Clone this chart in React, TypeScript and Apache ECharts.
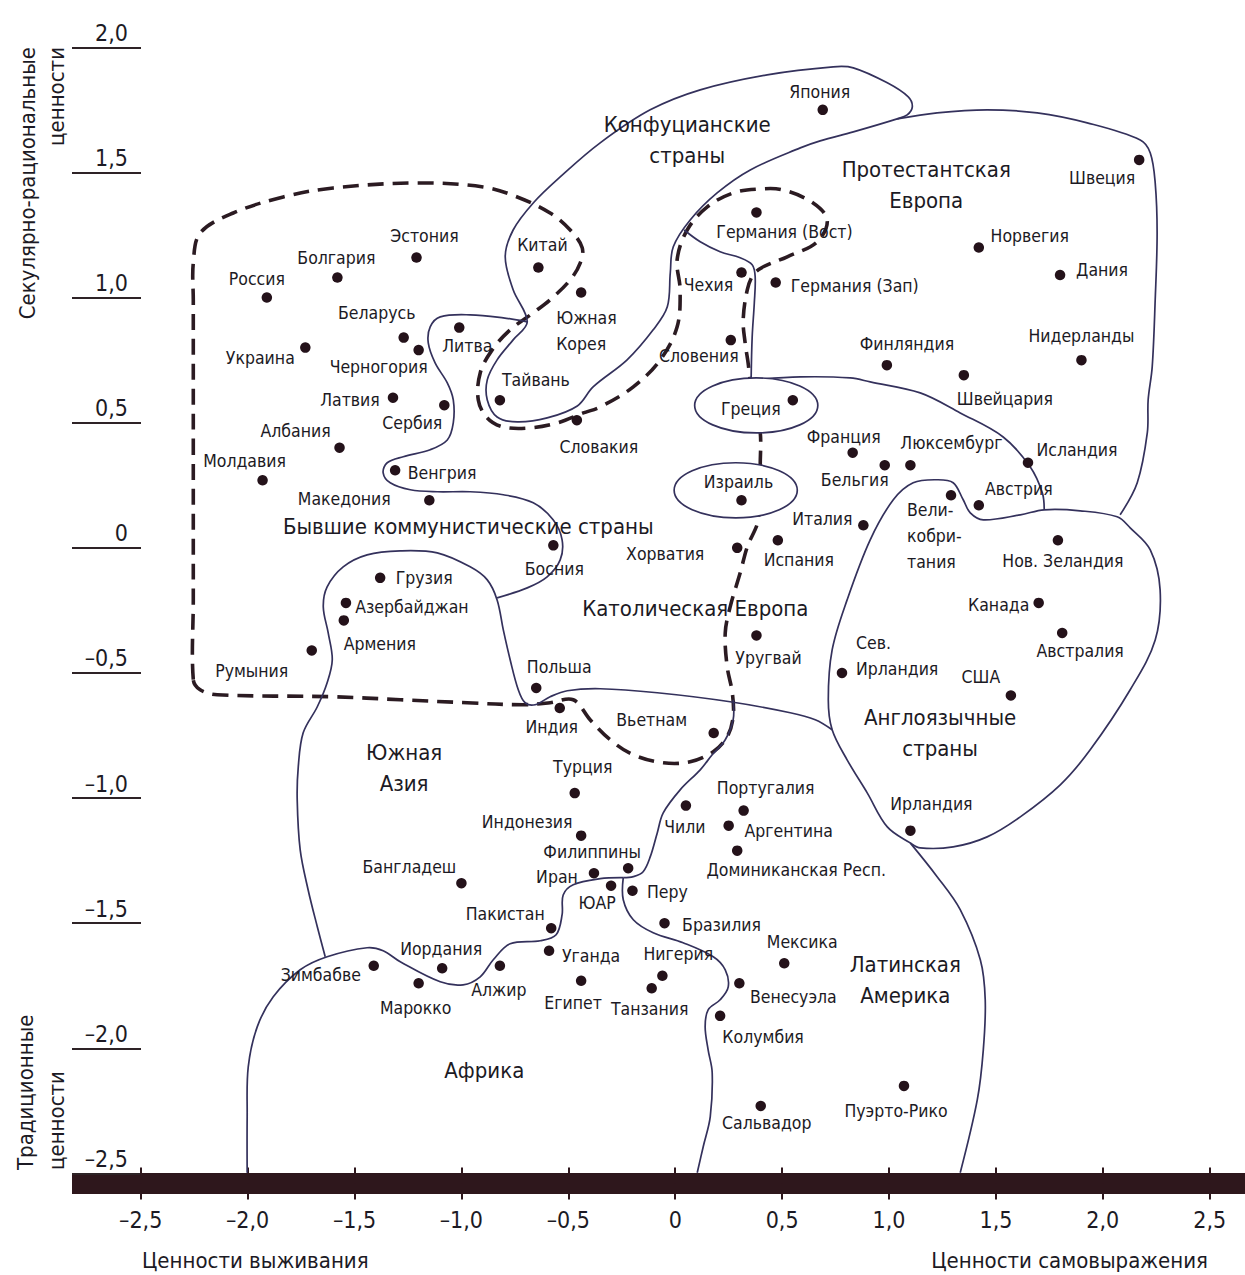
import React, { useEffect, useRef } from "react";
import * as echarts from "echarts";

const FONT = '"DejaVu Sans Condensed", "Liberation Sans Narrow", "Arial Narrow", sans-serif';
const TEXT = "#1c1a24";

// ---- countries ----
const countries = [
  "Россия", "Болгария", "Эстония", "Беларусь", "Черногория", "Украина", "Латвия", "Албания",
  "Молдавия", "Венгрия", "Македония", "Грузия", "Азербайджан", "Армения", "Румыния", "Литва",
  "Сербия", "Китай", "Южная\nКорея", "Тайвань", "Япония", "Германия (Вост)", "Чехия", "Германия (Зап)",
  "Словения", "Греция", "Швеция", "Норвегия", "Дания", "Финляндия", "Швейцария", "Нидерланды",
  "Словакия", "Израиль", "Босния", "Хорватия", "Испания", "Уругвай", "Польша", "Индия",
  "Вьетнам", "Турция", "Франция", "Бельгия", "Люксембург", "Исландия", "Вели-\nкобри-\nтания", "Австрия",
  "Италия", "Нов. Зеландия", "Канада", "Австралия", "Сев.\nИрландия", "США", "Ирландия", "Пуэрто-Рико",
  "Индонезия", "Бангладеш", "Иран", "Филиппины", "ЮАР", "Перу", "Пакистан", "Уганда",
  "Египет", "Алжир", "Иордания", "Марокко", "Зимбабве", "Бразилия", "Нигерия", "Танзания",
  "Мексика", "Венесуэла", "Колумбия", "Сальвадор", "Чили", "Португалия", "Аргентина", "Доминиканская Респ.",
];
const survivalSelfExpression = [
  -1.91, -1.58, -1.21, -1.27, -1.20, -1.73, -1.32, -1.57,
  -1.93, -1.31, -1.15, -1.38, -1.54, -1.55, -1.70, -1.01,
  -1.08, -0.64, -0.44, -0.82, 0.69, 0.38, 0.31, 0.47,
  0.26, 0.55, 2.17, 1.42, 1.80, 0.99, 1.35, 1.90,
  -0.46, 0.31, -0.57, 0.29, 0.48, 0.38, -0.65, -0.54,
  0.18, -0.47, 0.83, 0.98, 1.10, 1.65, 1.29, 1.42,
  0.88, 1.79, 1.70, 1.81, 0.78, 1.57, 1.10, 1.07,
  -0.44, -1.00, -0.38, -0.22, -0.30, -0.20, -0.58, -0.59,
  -0.44, -0.82, -1.09, -1.20, -1.41, -0.05, -0.06, -0.11,
  0.51, 0.30, 0.21, 0.40, 0.05, 0.32, 0.25, 0.29,
];
const traditionalSecular = [
  1.00, 1.08, 1.16, 0.84, 0.79, 0.80, 0.60, 0.40,
  0.27, 0.31, 0.19, -0.12, -0.22, -0.29, -0.41, 0.88,
  0.57, 1.12, 1.02, 0.59, 1.75, 1.34, 1.10, 1.06,
  0.83, 0.59, 1.55, 1.20, 1.09, 0.73, 0.69, 0.75,
  0.51, 0.19, 0.01, 0.00, 0.03, -0.35, -0.56, -0.64,
  -0.74, -0.98, 0.38, 0.33, 0.33, 0.34, 0.21, 0.17,
  0.09, 0.03, -0.22, -0.34, -0.50, -0.59, -1.13, -2.15,
  -1.15, -1.34, -1.30, -1.28, -1.35, -1.37, -1.52, -1.61,
  -1.73, -1.67, -1.68, -1.74, -1.67, -1.50, -1.71, -1.76,
  -1.66, -1.74, -1.87, -2.23, -1.03, -1.05, -1.11, -1.21,
];
// label placement relative to each dot: [dx, dy, align]
const labelOffsets: [number, number, string][] = [
  [-10, -19, "center"], [-1, -20, "center"], [8, -22, "center"], [-27, -25, "center"], [-40, 17, "center"], [-45, 10, "center"], [-43, 2, "center"], [-44, -17, "center"],
  [-18, -19, "center"], [47, 3, "center"], [-85, -1, "center"], [44, 0, "center"], [66, 4, "center"], [36, 24, "center"], [-60, 21, "center"], [8, 18, "center"],
  [-32, 18, "center"], [4, -23, "center"], [-25, 38, "left"], [36, -20, "center"], [-3, -18, "center"], [28, 20, "center"], [-33, 12, "center"], [79, 3, "center"],
  [-32, 16, "center"], [-42, 9, "center"], [-37, 18, "center"], [51, -12, "center"], [42, -5, "center"], [20, -21, "center"], [41, 24, "center"], [0, -24, "center"],
  [22, 27, "center"], [-3, -18, "center"], [1, 24, "center"], [-72, 6, "center"], [21, 20, "center"], [12, 23, "center"], [23, -21, "center"], [-8, 19, "center"],
  [-62, -13, "center"], [8, -26, "center"], [-9, -16, "center"], [-30, 15, "center"], [41, -22, "center"], [49, -13, "center"], [-44, 41, "left"], [40, -16, "center"],
  [-41, -6, "center"], [5, 21, "center"], [-40, 2, "center"], [18, 18, "center"], [14, -17, "left"], [-30, -18, "center"], [21, -27, "center"], [-8, 25, "center"],
  [-54, -14, "center"], [-52, -16, "center"], [-37, 4, "center"], [-36, -16, "center"], [-14, 17, "center"], [35, 1, "center"], [-46, -14, "center"], [42, 5, "center"],
  [-8, 22, "center"], [-1, 24, "center"], [-1, -19, "center"], [-3, 25, "center"], [-53, 9, "center"], [57, 2, "center"], [16, -22, "center"], [-2, 21, "center"],
  [18, -21, "center"], [54, 14, "center"], [43, 21, "center"], [6, 17, "center"], [-1, 21, "center"], [22, -23, "center"], [60, 5, "center"], [59, 19, "center"],
];

// ---- region captions ----
const regionNames = [
  "Конфуцианские\nстраны", "Протестантская\nЕвропа", "Бывшие коммунистические страны", "Католическая Европа",
  "Южная\nАзия", "Англоязычные\nстраны", "Латинская\nАмерика", "Африка",
];
const regionX = [0.056, 1.174, -0.968, 0.094, -1.268, 1.239, 1.076, -0.893];
const regionY = [1.630, 1.450, 0.084, -0.244, -0.879, -0.739, -1.726, -2.089];

// ---- axes ----
const xTicks = [-2.5, -2, -1.5, -1, -0.5, 0, 0.5, 1, 1.5, 2, 2.5];
const xMin = -2.8213;
const xMax = 2.665;
const yMin = -2.5;
const yMax = 2.0;

// ---- cultural zone borders (data coordinates) ----
const communistBorder = [
  [-2.254, -0.527], [-2.254, -0.208], [-2.254, 0.392], [-2.254, 0.991], [-2.254, 1.139], [-2.222, 1.258],
  [-2.067, 1.338], [-1.833, 1.402], [-1.6, 1.438], [-1.207, 1.458], [-0.898, 1.442], [-0.739, 1.402],
  [-0.585, 1.338], [-0.491, 1.27], [-0.435, 1.199], [-0.444, 1.139], [-0.491, 1.071], [-0.585, 0.991],
  [-0.664, 0.939], [-0.772, 0.871], [-0.856, 0.791], [-0.912, 0.699], [-0.921, 0.591], [-0.879, 0.519],
  [-0.804, 0.483], [-0.678, 0.479], [-0.552, 0.499], [-0.43, 0.539], [-0.351, 0.563], [-0.196, 0.643],
  [-0.07, 0.751], [0.009, 0.883], [0.023, 1.031], [0.009, 1.151], [0.056, 1.27], [0.15, 1.362],
  [0.271, 1.418], [0.398, 1.434], [0.505, 1.43], [0.645, 1.378], [0.711, 1.31], [0.664, 1.223],
  [0.524, 1.163], [0.412, 1.123], [0.365, 1.091], [0.337, 1.031], [0.318, 0.911], [0.327, 0.819],
  [0.341, 0.739], [0.351, 0.671], [0.374, 0.591], [0.398, 0.459], [0.398, 0.352], [0.388, 0.112],
  [0.337, 0.004], [0.304, -0.1], [0.257, -0.236], [0.234, -0.34], [0.243, -0.475], [0.267, -0.579],
  [0.271, -0.675], [0.243, -0.755], [0.178, -0.815], [0.07, -0.855], [-0.056, -0.859], [-0.196, -0.827],
  [-0.304, -0.767], [-0.398, -0.687], [-0.477, -0.607], [-0.585, -0.619], [-0.711, -0.627], [-0.973, -0.619],
  [-1.286, -0.607], [-1.6, -0.595], [-2.142, -0.587], [-2.222, -0.567],
];
const confucianBorder = [
  [-0.692, 0.903], [-0.758, 1.031], [-0.795, 1.163], [-0.758, 1.27], [-0.664, 1.378], [-0.538, 1.482],
  [-0.351, 1.618], [-0.117, 1.75], [0.117, 1.83], [0.43, 1.89], [0.739, 1.922], [0.833, 1.918],
  [0.992, 1.858], [1.09, 1.802], [1.109, 1.762], [1.085, 1.73], [1.038, 1.714], [0.833, 1.662],
  [0.678, 1.626], [0.585, 1.598], [0.351, 1.51], [0.196, 1.418], [0.07, 1.31], [-0.009, 1.203],
  [-0.023, 1.099], [-0.037, 0.963], [-0.103, 0.871], [-0.225, 0.751], [-0.384, 0.643], [-0.458, 0.567],
  [-0.599, 0.519], [-0.739, 0.503], [-0.833, 0.523], [-0.879, 0.591], [-0.879, 0.671], [-0.833, 0.751],
  [-0.758, 0.831],
];
const englishBorder = [
  [1.726, 0.152], [1.614, 0.132], [1.441, 0.112], [1.38, 0.14], [1.347, 0.192], [1.3, 0.26],
  [1.225, 0.272], [1.113, 0.26], [1.02, 0.192], [0.912, 0.032], [0.804, -0.208], [0.734, -0.408],
  [0.716, -0.607], [0.734, -0.727], [0.804, -0.847], [0.898, -0.979], [0.992, -1.115], [1.099, -1.179],
  [1.146, -1.199], [1.3, -1.195], [1.459, -1.155], [1.614, -1.075], [1.801, -0.947], [1.941, -0.807],
  [2.128, -0.567], [2.245, -0.368], [2.268, -0.168], [2.222, -0.008], [2.128, 0.08], [2.067, 0.124],
  [1.894, 0.148],
];
const protestantOuter = [
  [1.038, 1.714], [1.225, 1.738], [1.459, 1.75], [1.693, 1.738], [1.927, 1.698], [2.175, 1.63],
  [2.222, 1.578], [2.245, 1.458], [2.254, 1.258], [2.245, 0.991], [2.231, 0.723], [2.212, 0.591],
  [2.208, 0.459], [2.161, 0.26], [2.081, 0.132],
];
const germanyCzechLine = [
  [0.042, 1.27], [0.117, 1.223], [0.21, 1.183], [0.304, 1.159], [0.36, 1.131], [0.374, 1.083],
  [0.37, 0.979], [0.36, 0.843], [0.355, 0.671],
];
const protestantCatholicLine = [
  [0.355, 0.671], [0.585, 0.683], [0.819, 0.679], [0.912, 0.663], [1.146, 0.619], [1.333, 0.539],
  [1.534, 0.443], [1.66, 0.324], [1.717, 0.22], [1.726, 0.152],
];
const balticBalkanLine = [
  [-0.692, 0.903], [-0.804, 0.919], [-0.959, 0.931], [-1.099, 0.923], [-1.146, 0.883], [-1.155, 0.819],
  [-1.123, 0.739], [-1.066, 0.659], [-1.038, 0.591], [-1.038, 0.499], [-1.066, 0.431], [-1.146, 0.392],
  [-1.272, 0.364], [-1.347, 0.34], [-1.366, 0.3], [-1.333, 0.26], [-1.239, 0.232], [-1.113, 0.224],
  [-0.959, 0.224], [-0.804, 0.212], [-0.664, 0.18], [-0.571, 0.112], [-0.529, 0.032], [-0.538, -0.048],
  [-0.599, -0.116], [-0.692, -0.16], [-0.833, -0.2],
];
const southAsiaLine = [
  [-1.637, -1.634], [-1.674, -1.514], [-1.717, -1.366], [-1.754, -1.207], [-1.768, -1.007], [-1.763, -0.875],
  [-1.74, -0.739], [-1.674, -0.635], [-1.628, -0.539], [-1.604, -0.447], [-1.623, -0.34], [-1.646, -0.236],
  [-1.628, -0.156], [-1.553, -0.076], [-1.441, -0.028], [-1.286, -0.012], [-1.113, -0.02], [-0.959, -0.076],
  [-0.879, -0.128], [-0.833, -0.208], [-0.804, -0.328], [-0.772, -0.447], [-0.734, -0.567], [-0.702, -0.619],
  [-0.655, -0.627], [-0.585, -0.595], [-0.505, -0.571], [-0.351, -0.563], [-0.084, -0.579], [0.257, -0.615],
  [0.538, -0.659], [0.655, -0.687], [0.734, -0.727],
];
const latinSouthAsiaLine = [
  [0.271, -0.607], [0.271, -0.687], [0.234, -0.767], [0.173, -0.827], [0.117, -0.887], [0.023, -0.967],
  [-0.056, -1.059], [-0.084, -1.139], [-0.117, -1.235], [-0.15, -1.294], [-0.196, -1.314], [-0.243, -1.318],
];
const africaLine = [
  [-0.243, -1.318], [-0.351, -1.322], [-0.477, -1.346], [-0.524, -1.387], [-0.529, -1.466], [-0.557, -1.546],
  [-0.631, -1.57], [-0.772, -1.582], [-0.851, -1.646], [-0.912, -1.714], [-0.992, -1.746], [-1.099, -1.734],
  [-1.286, -1.654], [-1.366, -1.61], [-1.441, -1.598], [-1.628, -1.634], [-1.754, -1.686], [-1.88, -1.794],
  [-1.955, -1.914], [-1.997, -2.074], [-2.002, -2.273], [-2.002, -2.497],
];
const latinAfricaLine = [
  [-0.243, -1.318], [-0.243, -1.406], [-0.196, -1.486], [-0.103, -1.538], [0.037, -1.578], [0.178, -1.634],
  [0.234, -1.686], [0.248, -1.754], [0.21, -1.806], [0.154, -1.846], [0.14, -1.914], [0.154, -2.006],
  [0.173, -2.097], [0.164, -2.273], [0.131, -2.393], [0.103, -2.497],
];
const latinEastLine = [
  [1.099, -1.179], [1.225, -1.314], [1.333, -1.446], [1.427, -1.646], [1.45, -1.806], [1.441, -2.006],
  [1.413, -2.205], [1.333, -2.497],
];
// Greece & Israel ellipses: centre and radii in data units
const ellipseCentres = [[0.379, 0.569], [0.283, 0.230]];
const ellipseRadii = [[0.288, 0.110], [0.288, 0.110]];

const solidCurves = [
  { pts: confucianBorder, closed: true },
  { pts: englishBorder, closed: true },
  { pts: protestantOuter, closed: false },
  { pts: germanyCzechLine, closed: false },
  { pts: protestantCatholicLine, closed: false },
  { pts: balticBalkanLine, closed: false },
  { pts: southAsiaLine, closed: false },
  { pts: latinSouthAsiaLine, closed: false },
  { pts: africaLine, closed: false },
  { pts: latinAfricaLine, closed: false },
  { pts: latinEastLine, closed: false },
];

const fmt = (v: number) => {
  if (Math.abs(v) < 1e-9) return "0";
  return (v < 0 ? "–" : "") + Math.abs(v).toFixed(1).replace(".", ",");
};

const titleStyle = (text: string, align: string) => ({
  text, fontSize: 22, fontFamily: FONT, fill: TEXT,
  align, verticalAlign: "middle", textAlign: align, textVerticalAlign: "middle",
});

export default function App() {
  const ref = useRef<HTMLDivElement>(null);
  useEffect(() => {
    const chart = echarts.init(ref.current as HTMLDivElement, null, { renderer: "svg" });
    const LINE = "#34315c";
    const BAR = "#2e171c";
    const option: any = {
      animation: false,
      backgroundColor: "#ffffff",
      grid: { left: 72, right: 0, top: 47.3, bottom: 101.5, containLabel: false },
      xAxis: [
        {
          type: "value", min: xMin, max: xMax, position: "bottom", offset: 10,
          axisLine: { show: true, onZero: false, lineStyle: { color: BAR, width: 21, cap: "butt" } },
          axisTick: { show: true, customValues: xTicks, length: 16, lineStyle: { color: BAR, width: 2, cap: "butt" } },
          axisLabel: { show: true, customValues: xTicks, formatter: fmt, fontSize: 23, fontFamily: FONT, color: TEXT, margin: 25 },
          splitLine: { show: false },
        },
        {
          type: "value", min: xMin, max: xMax, position: "bottom", offset: 10,
          axisLine: { show: false, onZero: false },
          axisTick: { show: true, inside: true, customValues: xTicks, length: 16, lineStyle: { color: BAR, width: 2, cap: "butt" } },
          axisLabel: { show: false },
          splitLine: { show: false },
        },
      ],
      yAxis: {
        type: "value", min: yMin, max: yMax, interval: 0.5, position: "left",
        axisLine: { show: false, onZero: false },
        axisTick: { show: true, inside: true, length: 69, lineStyle: { color: "#2e2326", width: 2, cap: "butt" } },
        axisLabel: {
          show: true, inside: true, margin: 56, align: "right", verticalAlign: "bottom",
          padding: [0, 0, 3, 0],
          formatter: fmt, fontSize: 23, fontFamily: FONT, color: TEXT,
        },
        splitLine: { show: false },
      },
      graphic: [
        { type: "text", x: 142, y: 1260, silent: true, style: titleStyle("Ценности выживания", "left") },
        { type: "text", x: 1208, y: 1260, silent: true, style: titleStyle("Ценности самовыражения", "right") },
        { type: "text", x: 27, y: 47, rotation: Math.PI / 2, silent: true, style: titleStyle("Секулярно-рациональные", "right") },
        { type: "text", x: 56, y: 47, rotation: Math.PI / 2, silent: true, style: titleStyle("ценности", "right") },
        { type: "text", x: 25, y: 1170, rotation: Math.PI / 2, silent: true, style: titleStyle("Традиционные", "left") },
        { type: "text", x: 56, y: 1170, rotation: Math.PI / 2, silent: true, style: titleStyle("ценности", "left") },
      ],
      series: [
        {
          type: "custom", name: "communist", coordinateSystem: "cartesian2d", xAxisIndex: 0, yAxisIndex: 0,
          clip: false, silent: true, z: 1,
          data: [[0, 0]],
          renderItem: (params: any, api: any) => ({
            type: "polygon",
            shape: { points: communistBorder.map((p) => api.coord(p)), smooth: 0.35 },
            style: { fill: "none", stroke: "#2b1b22", lineWidth: 3.6, lineDash: [16, 9] },
          }),
        },
        {
          type: "custom", name: "zones", coordinateSystem: "cartesian2d", xAxisIndex: 0, yAxisIndex: 0,
          clip: false, silent: true, z: 2,
          data: solidCurves.map(() => [0, 0]),
          renderItem: (params: any, api: any) => {
            const c = solidCurves[params.dataIndex];
            return {
              type: c.closed ? "polygon" : "polyline",
              shape: { points: c.pts.map((p) => api.coord(p)), smooth: 0.35 },
              style: { fill: "none", stroke: LINE, lineWidth: 1.7 },
            };
          },
        },
        {
          type: "custom", name: "ellipses", coordinateSystem: "cartesian2d", xAxisIndex: 0, yAxisIndex: 0,
          clip: false, silent: true, z: 3,
          data: ellipseCentres.map((c) => c),
          renderItem: (params: any, api: any) => {
            const c = api.coord(ellipseCentres[params.dataIndex]);
            const r = ellipseRadii[params.dataIndex];
            const s = api.size([r[0], r[1]]);
            return {
              type: "ellipse",
              shape: { cx: c[0], cy: c[1], rx: s[0], ry: s[1] },
              style: { fill: "#ffffff", stroke: LINE, lineWidth: 1.7 },
            };
          },
        },
        {
          type: "scatter", name: "countries", xAxisIndex: 0, yAxisIndex: 0, z: 5,
          symbol: "circle", symbolSize: 10.5,
          itemStyle: { color: "#24121a", opacity: 1 },
          label: {
            show: true, position: "inside", formatter: "{b}", fontSize: 17.5, lineHeight: 26,
            fontFamily: FONT, color: TEXT, verticalAlign: "middle", opacity: 1,
          },
          data: countries.map((n, i) => ({
            name: n,
            value: [survivalSelfExpression[i], traditionalSecular[i]],
            label: { offset: [labelOffsets[i][0], labelOffsets[i][1]], align: labelOffsets[i][2] },
          })),
        },
        {
          type: "scatter", name: "regions", xAxisIndex: 0, yAxisIndex: 0, z: 6,
          symbol: "circle", symbolSize: 1, itemStyle: { color: "rgba(255,255,255,0)", opacity: 1 },
          label: {
            show: true, position: "inside", formatter: "{b}", fontSize: 22, lineHeight: 31,
            fontFamily: FONT, color: TEXT, align: "center", verticalAlign: "middle", opacity: 1,
          },
          data: regionNames.map((n, i) => ({ name: n, value: [regionX[i], regionY[i]] })),
        },
      ],
    };
    chart.setOption(option);
    return () => chart.dispose();
  }, []);
  return (
    <div
      ref={ref}
      style={{ position: "fixed", left: 0, top: 0, width: 1245, height: 1275, background: "#ffffff" }}
    />
  );
}
